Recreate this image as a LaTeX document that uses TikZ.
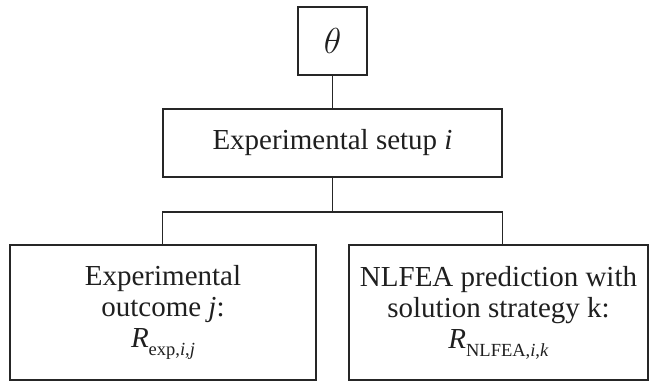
\documentclass[tikz,border=0pt]{standalone}
\usepackage{fontspec}
\setmainfont{Liberation Serif}
\usetikzlibrary{calc}
% subscript set in text fonts, lowered below the baseline
\newcommand{\lowsub}[1]{\raisebox{-0.28em}{\fontsize{18.5}{18.5}\selectfont #1}}
\begin{document}
\begin{tikzpicture}[x=1pt,y=-1pt,
  every node/.style={font=\fontsize{29}{32}\selectfont, text=black!88},
  box/.style={draw=black!85, line width=1.4pt, inner sep=0pt, align=center},
  link/.style={draw=black!85, line width=1.4pt}]
  \useasboundingbox (0,0) rectangle (650,381);
  % boxes
  \node[box, minimum width=69pt, minimum height=68pt] (theta) at (332.5,41) {\scalebox{1.45}{$\theta$}};
  \node[box, minimum width=339pt, minimum height=68pt] (setup) at (332.5,143) {Experimental setup \textit{i}};
  \node[box, minimum width=306pt, minimum height=135pt] (outcome) at (163,312.5)
    {Experimental\\[-1pt] outcome \textit{j}:\\[-1pt] \textit{R}\lowsub{exp,\textit{i},\textit{j}}};
  \node[box, minimum width=299pt, minimum height=135pt] (nlfea) at (498.5,312.5)
    {NLFEA prediction with\\[-1pt] solution strategy k:\\[-1pt] \textit{R}\lowsub{NLFEA,\textit{i},\textit{k}}};
  % junction points of the branching connector
  \coordinate (mid) at (332.5,212);
  \coordinate (jl) at (setup.west |- mid);
  \coordinate (jr) at (setup.east |- mid);
  % connectors
  \draw[link] (theta.south) -- (setup.north);
  \draw[link] (setup.south) -- (mid);
  \draw[link] (jl) -- (jr);
  \draw[link] (jl) -- (jl |- outcome.north);
  \draw[link] (jr) -- (jr |- nlfea.north);
\end{tikzpicture}
\end{document}
